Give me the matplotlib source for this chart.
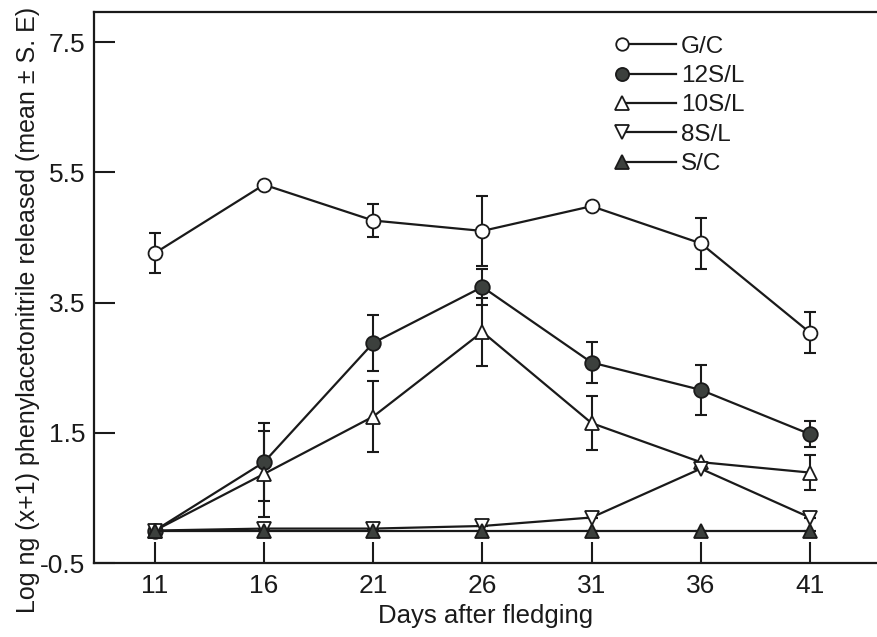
import matplotlib
matplotlib.use("Agg")
import matplotlib.pyplot as plt
from matplotlib.legend_handler import HandlerLine2D
from matplotlib.lines import Line2D

plt.rcParams['font.family'] = ['Liberation Sans', 'DejaVu Sans']

days = [11, 16, 21, 26, 31, 36, 41]
series_names = ["G/C", "12S/L", "10S/L", "8S/L", "S/C"]
gc_mean = [4.26, 5.31, 4.76, 4.60, 4.98, 4.41, 3.04]
gc_se = [0.31, 0.0, 0.26, 0.54, 0.0, 0.39, 0.32]
s12_mean = [0.0, 1.05, 2.88, 3.74, 2.58, 2.16, 1.48]
s12_se = [0.0, 0.60, 0.43, 0.28, 0.31, 0.38, 0.20]
s10_mean = [0.0, 0.87, 1.75, 3.05, 1.65, 1.05, 0.89]
s10_se = [0.0, 0.66, 0.54, 0.52, 0.42, 0.0, 0.27]
s8_mean = [0.0, 0.03, 0.03, 0.07, 0.20, 0.95, 0.20]
s8_se = [0.0, 0.0, 0.0, 0.0, 0.0, 0.0, 0.0]
sc_mean = [0.0, 0.0, 0.0, 0.0, 0.0, 0.0, 0.0]
sc_se = [0.0, 0.0, 0.0, 0.0, 0.0, 0.0, 0.0]
yticks = [-0.5, 1.5, 3.5, 5.5, 7.5]

INK = '#1a1a1a'
DARK = '#3c403d'

styles = [
    dict(marker='o', mfc='white', ms=10),
    dict(marker='o', mfc=DARK, ms=10.5),
    dict(marker='^', mfc='white', ms=10.5),
    dict(marker='v', mfc='white', ms=10.5),
    dict(marker='^', mfc=DARK, ms=10.5),
]
means = [gc_mean, s12_mean, s10_mean, s8_mean, sc_mean]
ses = [gc_se, s12_se, s10_se, s8_se, sc_se]

fig = plt.figure(figsize=(8.78, 6.37), dpi=100)
ax = fig.add_axes([0.107, 0.116, 0.893, 0.865])

handles = []
for name, m, s, st in zip(series_names, means, ses, styles):
    ax.errorbar(days, m, yerr=s, fmt='none', ecolor=INK, elinewidth=1.5,
                capsize=4, capthick=1.5, zorder=2)
    h, = ax.plot(days, m, color=INK, lw=1.6, marker=st['marker'],
                 mfc=st['mfc'], mec=INK, mew=1.3, ms=st['ms'], zorder=3,
                 label=name)
    handles.append(h)

ax.set_xlim(8.21, 44.12)
ax.set_ylim(-0.5, 7.96)
ax.set_xticks(days)
ax.set_yticks(yticks)
ax.set_yticklabels([str(v) for v in yticks])
ax.tick_params(direction='in', length=15, width=1.5, labelsize=19,
               color=INK, labelcolor=INK)
ax.tick_params(axis='y', pad=6)
ax.tick_params(axis='x', pad=8)

for sp in ['left', 'bottom', 'top']:
    ax.spines[sp].set_linewidth(1.6)
    ax.spines[sp].set_color(INK)
ax.spines['right'].set_visible(False)

ax.set_xlabel("Days after fledging", fontsize=18.5, color=INK)
ax.xaxis.set_label_coords(0.5, -0.074)
ax.set_ylabel("Log ng (x+1) phenylacetonitrile released (mean \u00b1 S. E)",
              fontsize=18, color=INK)
ax.yaxis.set_label_coords(-0.069, 0.46)


class LeftMarkerHandler(HandlerLine2D):
    def create_artists(self, legend, orig_handle, xdescent, ydescent,
                       width, height, fontsize, trans):
        y = (height - ydescent) / 2
        line = Line2D([-xdescent, -xdescent + width], [y, y])
        self.update_prop(line, orig_handle, legend)
        line.set_marker('None')
        mk = Line2D([-xdescent], [y])
        self.update_prop(mk, orig_handle, legend)
        mk.set_linestyle('None')
        mk.set_markersize(orig_handle.get_markersize() * 0.9)
        line.set_transform(trans)
        mk.set_transform(trans)
        return [line, mk]


leg = ax.legend(handles=handles, loc='upper left',
                bbox_to_anchor=(0.673, 0.957), frameon=False, fontsize=17.5,
                borderpad=0, borderaxespad=0, handlelength=2.25,
                handletextpad=0.2, labelspacing=0.3,
                handler_map={h: LeftMarkerHandler() for h in handles})
for t in leg.get_texts():
    t.set_color(INK)

fig.savefig("out.png", dpi=100, facecolor='white')
